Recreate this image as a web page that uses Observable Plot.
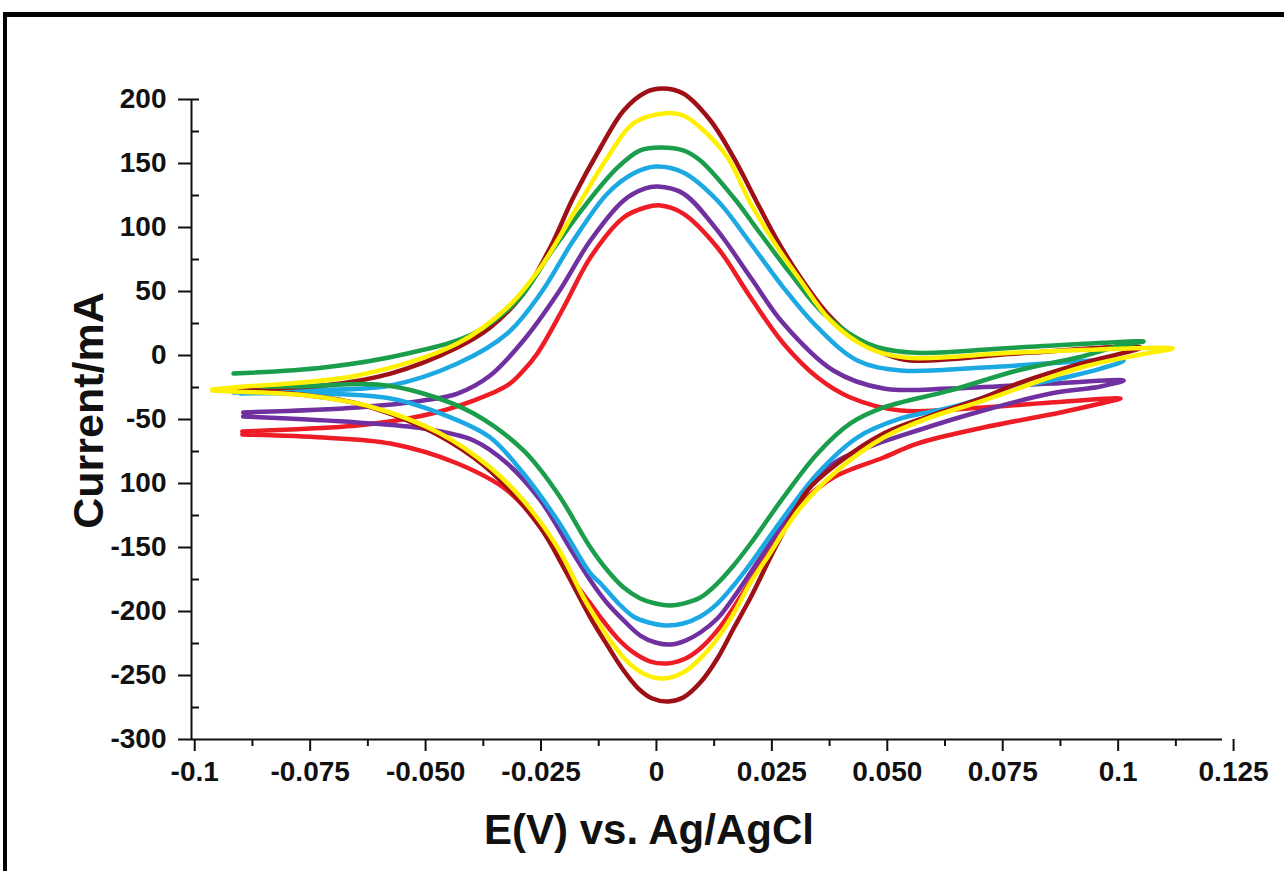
<!DOCTYPE html>
<html>
<head>
<meta charset="utf-8">
<script src="https://cdn.jsdelivr.net/npm/d3@7"></script>
<script src="https://cdn.jsdelivr.net/npm/@observablehq/plot@0.6"></script>
<style>
  html, body { margin: 0; padding: 0; background: #fff; }
  #wrap { position: relative; width: 1284px; height: 871px; overflow: hidden; background: #fff; }
  #frame { position: absolute; left: 3px; top: 12px; width: 1300px; height: 900px;
           border-top: 5px solid #000; border-left: 4px solid #000; box-sizing: border-box; }
  #chart { position: absolute; left: 0; top: 0; }
</style>
</head>
<body>
<div id="wrap"><div id="frame"></div><div id="chart"></div></div>
<script>
// ---- axis definitions ----
const xDomain = [-0.1007, 0.1226];
const yDomain = [-300, 200];
const xTickValues = [-0.1, -0.075, -0.05, -0.025, 0, 0.025, 0.05, 0.075, 0.1, 0.125];
const xTickLabels = ["-0.1", "-0.075", "-0.050", "-0.025", "0", "0.025", "0.050", "0.075", "0.1", "0.125"];
const xMinorTicks = [-0.0875, -0.0625, -0.0375, -0.0125, 0.0125, 0.0375, 0.0625, 0.0875, 0.1125];
const yTickValues = [200, 150, 100, 50, 0, -50, -100, -150, -200, -250, -300];
const yTickLabels = ["200", "150", "100", "50", "0", "-50", "100", "-150", "-200", "-250", "-300"];
const yInnerTicks = [200, 175, 125, 75, 25, -25, -75, -125, -175, -225, -275];
const xTitle = "E(V) vs. Ag/AgCl";
const yTitle = "Current/mA";

// ---- series (E in V, I in mA), traced along each loop ----
const seriesNames = ["Curve 1", "Curve 2", "Curve 3", "Curve 4", "Curve 5", "Curve 6"];
const seriesColors = ["#EE1C25", "#7030A0", "#1CA8E3", "#9E1016", "#1B9E4B", "#FFF000"];

const curve1 = [ // red
  [-0.0897,-59.4],[-0.0793,-57.8],[-0.0648,-54.7],[-0.0505,-46.9],[-0.0396,-35.2],[-0.0323,-23.4],
  [-0.0290,-12.5],[-0.0258,1.6],[-0.0201,37.5],[-0.0143,76.6],[-0.0071,107.8],[-0.0024,115.6],[0.0009,117.2],
  [0.0058,110.9],[0.0132,84.4],[0.0204,45.3],[0.0275,9.4],[0.0349,-17.2],[0.0420,-32.8],
  [0.0529,-43.0],[0.0708,-40.6],[0.0854,-36.7],[0.1005,-33.6],
  [0.0962,-37.5],[0.0875,-44.5],[0.0708,-56.3],[0.0565,-68.8],[0.0492,-79.7],[0.0383,-95.3],
  [0.0312,-115.6],[0.0275,-131.3],[0.0204,-175.8],[0.0167,-196.9],[0.0132,-214.8],[0.0095,-228.9],
  [0.0063,-236.7],[0.0024,-240.6],[-0.0013,-239.1],[-0.0050,-232.0],[-0.0084,-221.1],[-0.0121,-204.7],
  [-0.0143,-193.8],[-0.0180,-175.8],[-0.0251,-134.4],[-0.0323,-105.5],
  [-0.0431,-84.4],[-0.0576,-68.8],[-0.0721,-64.1],[-0.0897,-61.7]
];
const curve2 = [ // purple
  [-0.0895,-44.5],[-0.0648,-40.6],[-0.0505,-35.2],[-0.0431,-29.7],[-0.0360,-15.6],[-0.0288,11.7],
  [-0.0214,48.4],[-0.0143,89.8],[-0.0071,121.1],[-0.0024,130.5],[0.0002,132.0],[0.0058,126.6],
  [0.0132,97.7],[0.0204,60.9],[0.0275,25.0],[0.0383,-11.7],[0.0492,-25.8],[0.0637,-25.8],
  [0.0854,-21.9],[0.1012,-19.5],
  [0.0962,-24.2],[0.0854,-29.7],[0.0708,-43.0],[0.0565,-58.6],[0.0457,-71.9],[0.0383,-84.4],
  [0.0312,-110.9],[0.0240,-150.0],[0.0204,-169.5],[0.0167,-189.1],[0.0132,-205.5],[0.0095,-216.4],
  [0.0063,-222.7],[0.0030,-225.8],[-0.0002,-224.2],[-0.0035,-218.8],[-0.0071,-207.0],
  [-0.0106,-193.8],[-0.0143,-175.8],[-0.0180,-154.7],[-0.0251,-113.3],[-0.0323,-84.4],[-0.0396,-66.4],
  [-0.0505,-57.0],[-0.0648,-52.3],[-0.0895,-47.7]
];
const curve3 = [ // sky blue
  [-0.0916,-28.9],[-0.0771,-27.3],[-0.0576,-23.4],[-0.0431,-6.3],[-0.0323,17.2],[-0.0251,48.4],
  [-0.0180,89.8],[-0.0106,126.6],[-0.0050,142.2],[-0.0002,147.7],[0.0058,143.0],[0.0132,121.1],
  [0.0204,87.5],[0.0275,53.1],[0.0349,21.9],[0.0435,-3.9],[0.0529,-11.7],[0.0708,-9.4],[0.1012,-3.9],
  [0.0962,-10.2],[0.0875,-18.0],[0.0782,-25.0],[0.0637,-40.6],[0.0529,-49.2],[0.0435,-64.1],
  [0.0349,-92.2],[0.0275,-126.6],[0.0204,-162.5],[0.0167,-179.7],[0.0132,-193.8],[0.0095,-203.9],
  [0.0058,-209.4],[0.0019,-210.9],[-0.0017,-208.6],[-0.0050,-203.9],[-0.0084,-193.0],[-0.0121,-178.1],
  [-0.0143,-170.3],[-0.0214,-128.9],[-0.0288,-92.2],
  [-0.0360,-64.1],[-0.0446,-48.4],[-0.0576,-33.6],[-0.0771,-29.7],[-0.0901,-29.7]
];
const curve4 = [ // maroon
  [-0.0916,-25.8],[-0.0721,-23.4],[-0.0576,-14.1],[-0.0431,6.3],[-0.0360,21.9],[-0.0288,48.4],
  [-0.0230,84.4],[-0.0180,123.4],[-0.0121,162.5],[-0.0071,191.4],[-0.0024,205.5],[0.0013,208.6],
  [0.0058,204.7],[0.0117,183.6],[0.0167,154.7],[0.0219,118.8],[0.0262,89.8],[0.0312,60.9],
  [0.0370,32.8],[0.0435,11.7],[0.0492,1.6],[0.0550,-3.9],[0.0782,1.6],[0.1049,6.3],
  [0.0919,-6.3],[0.0782,-21.9],[0.0708,-32.8],[0.0594,-46.9],[0.0492,-60.9],[0.0392,-84.4],
  [0.0327,-105.5],[0.0262,-146.9],[0.0204,-189.1],[0.0167,-213.3],[0.0132,-236.7],[0.0095,-255.5],
  [0.0058,-267.2],[0.0026,-270.3],[-0.0009,-268.0],[-0.0039,-260.2],[-0.0071,-246.1],[-0.0106,-226.6],
  [-0.0143,-204.7],[-0.0201,-165.6],[-0.0251,-134.4],
  [-0.0323,-103.1],[-0.0396,-79.7],[-0.0505,-56.3],[-0.0648,-37.5],[-0.0793,-29.7],[-0.0916,-27.3]
];
const curve5 = [ // green
  [-0.0916,-14.1],[-0.0721,-9.4],[-0.0539,1.6],[-0.0396,17.2],[-0.0301,43.0],[-0.0230,79.7],
  [-0.0158,115.6],[-0.0084,146.9],[-0.0035,160.2],[0.0009,162.5],[0.0058,160.2],[0.0095,152.3],
  [0.0167,123.4],[0.0225,95.3],[0.0290,64.1],[0.0362,32.8],[0.0457,9.4],[0.0550,2.3],
  [0.0782,6.3],[0.1055,10.9],
  [0.1005,7.8],[0.0912,-1.6],[0.0782,-11.7],[0.0637,-27.3],[0.0492,-40.6],[0.0420,-53.1],
  [0.0349,-76.6],[0.0275,-110.9],[0.0204,-146.9],[0.0167,-164.1],[0.0132,-178.1],[0.0095,-189.1],
  [0.0058,-193.8],[0.0030,-195.3],[-0.0002,-193.8],[-0.0035,-189.8],[-0.0071,-181.3],[-0.0106,-168.0],
  [-0.0143,-150.0],[-0.0214,-107.8],[-0.0288,-74.2],
  [-0.0396,-45.3],[-0.0505,-29.7],[-0.0604,-22.7],[-0.0771,-24.2],[-0.0858,-24.2]
];
const curve6 = [ // yellow
  [-0.0962,-26.6],[-0.0916,-25.0],[-0.0648,-15.6],[-0.0431,9.4],[-0.0323,37.5],[-0.0251,68.8],
  [-0.0180,110.9],[-0.0106,154.7],[-0.0050,181.3],[0.0015,189.1],[0.0058,187.5],[0.0095,178.1],
  [0.0154,154.7],[0.0204,118.8],[0.0262,84.4],[0.0312,58.6],[0.0377,27.3],[0.0457,6.3],
  [0.0539,-1.6],[0.0782,2.3],[0.1118,5.5],
  [0.1049,0.8],[0.0919,-9.4],[0.0708,-35.2],[0.0587,-49.2],[0.0492,-64.1],[0.0392,-89.8],
  [0.0312,-118.8],[0.0240,-157.8],[0.0204,-177.3],[0.0167,-201.6],[0.0132,-221.1],[0.0095,-236.7],
  [0.0058,-247.7],[0.0015,-252.3],[-0.0024,-249.2],[-0.0063,-239.1],[-0.0100,-222.7],[-0.0128,-207.0],
  [-0.0158,-189.1],[-0.0214,-150.0],[-0.0288,-113.3],[-0.0360,-87.5],
  [-0.0468,-60.9],[-0.0613,-40.6],[-0.0756,-31.3],[-0.0916,-28.1],[-0.0962,-27.3]
];

const seriesData = [curve1, curve2, curve3, curve4, curve5, curve6];
const rows = seriesNames.flatMap((name, k) => seriesData[k].map(([E, I]) => ({series: name, E, I})));

const font = "'Liberation Sans', Arial, sans-serif";
const chart = Plot.plot({
  width: 1284,
  height: 871,
  marginLeft: 191,
  marginRight: 62,
  marginTop: 99,
  marginBottom: 132,
  x: {domain: xDomain},
  y: {domain: yDomain},
  color: {domain: seriesNames, range: seriesColors},
  style: {fontFamily: font, background: "transparent", color: "#111", overflow: "visible"},
  marks: [
    Plot.line(rows, {x: "E", y: "I", z: "series", stroke: "series", strokeWidth: 4.5,
      curve: "catmull-rom", strokeLinecap: "round", strokeLinejoin: "round"}),
    Plot.ruleX([xDomain[0]], {stroke: "#111", strokeWidth: 2}),
    Plot.ruleY([yDomain[0]], {stroke: "#111", strokeWidth: 2}),
    Plot.axisY(yTickValues, {
      tickSize: 13, tickPadding: 12, strokeWidth: 2, fontSize: 28, fontWeight: "bold",
      tickFormat: d => yTickLabels[yTickValues.indexOf(d)], label: null
    }),
    Plot.axisY(yInnerTicks, {tickSize: -8, strokeWidth: 2, fill: "none", label: null}),
    Plot.axisX(xTickValues, {
      tickSize: 12, tickPadding: 10, strokeWidth: 2, fontSize: 28, fontWeight: "bold",
      tickFormat: d => xTickLabels[xTickValues.indexOf(d)], label: null
    }),
    Plot.axisX(xMinorTicks, {tickSize: 7, strokeWidth: 2, fill: "none", label: null}),
    Plot.text([yTitle], {frameAnchor: "left", textAnchor: "middle", dx: -102, dy: -9, rotate: -90,
      fontSize: 43, fontWeight: "bold", fill: "#111"}),
    Plot.text([xTitle], {frameAnchor: "bottom", textAnchor: "middle", dx: -58, dy: 104,
      fontSize: 42, fontWeight: "bold", fill: "#111"})
  ]
});
document.getElementById("chart").appendChild(chart);
</script>
</body>
</html>
